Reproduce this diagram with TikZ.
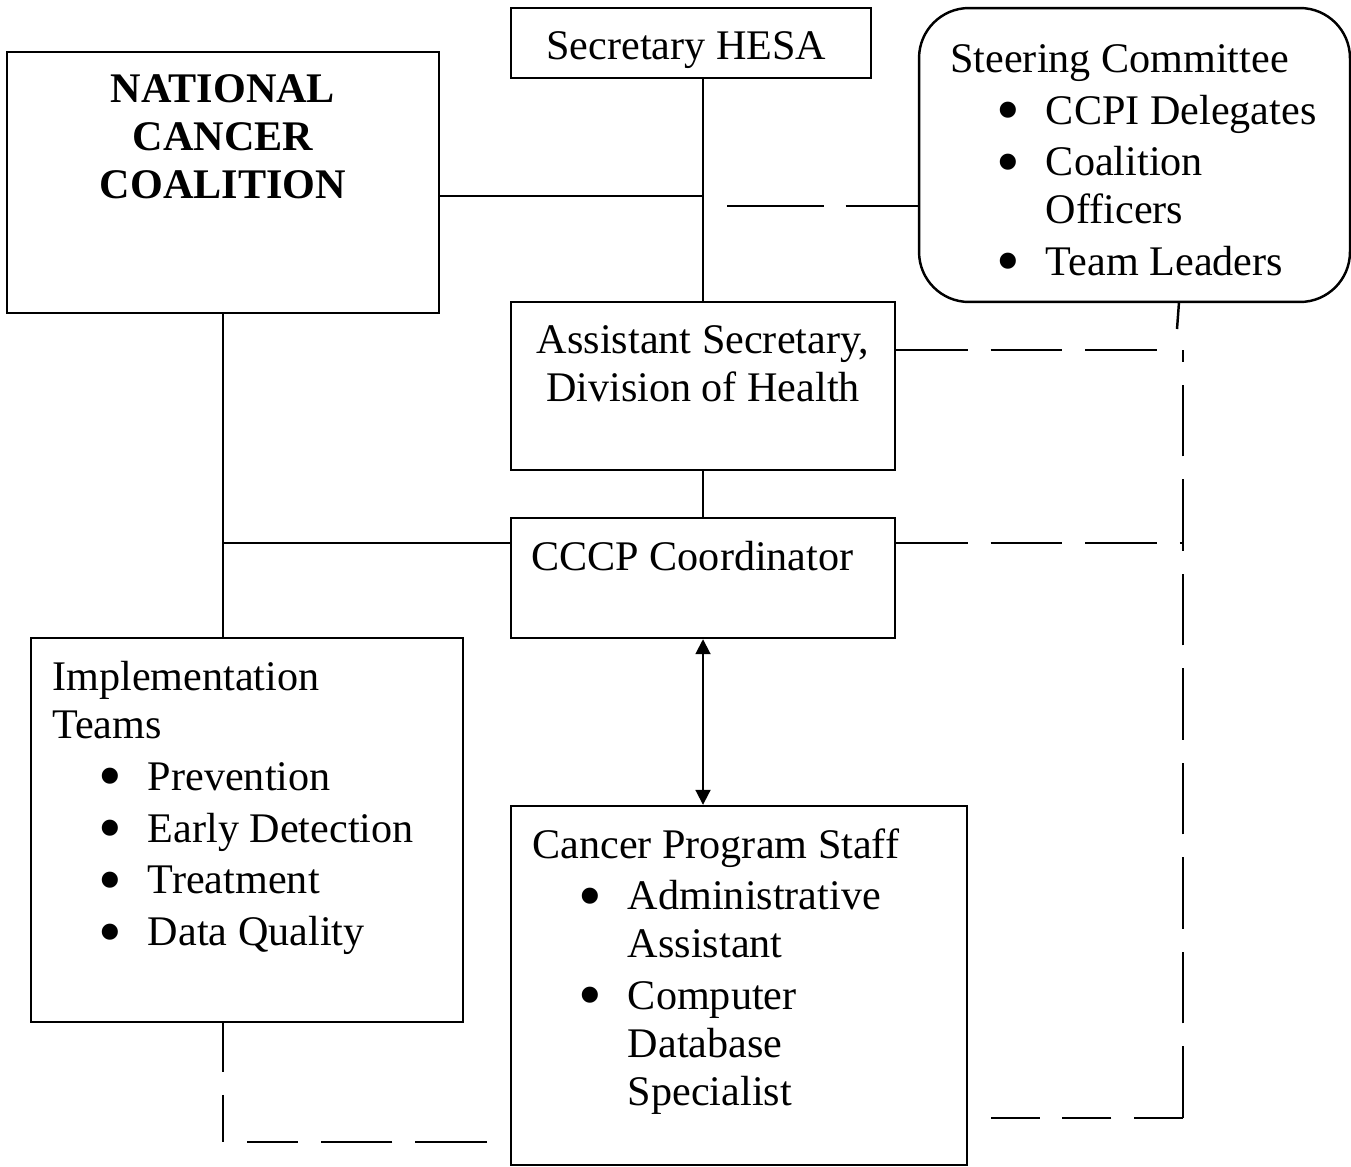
\documentclass[tikz,border=0pt]{standalone}
\usepackage{fontspec}
\setmainfont{Liberation Serif}
\usetikzlibrary{arrows.meta}
\newcommand{\bigbul}{\smash{\raisebox{-0.2em}{\scalebox{1.6}{\textbullet}}}}
\newcommand{\itm}[1]{\hspace*{26pt}\makebox[28.4pt][l]{\bigbul}#1}
\newcommand{\cnt}[1]{\hspace*{54.4pt}#1}
\tikzset{
  box/.style={draw, line width=1.4pt, inner sep=0pt},
  txt/.style={inner sep=0pt, align=left, font=\fontsize{24}{27.2}\selectfont},
  link/.style={line width=1.4pt},
  dashlink/.style={line width=1.4pt, dash pattern=on 40.8pt off 13pt},
  dashshort/.style={line width=1.4pt, dash pattern=on 27.8pt off 13pt},
}

\begin{document}
\begin{tikzpicture}[x=0.02cm, y=-0.02cm]
  \useasboundingbox (0,0) rectangle (1351,1166);

  % boxes
  \node[box, minimum width=8.64cm, minimum height=5.22cm] (ncc) at (223,182.5) {};
  \node[box, minimum width=7.2cm, minimum height=1.4cm] (hesa) at (691,43) {};
  \node[box, rounded corners=1cm, minimum width=8.62cm, minimum height=5.88cm] (steer) at (1134.5,155) {};
  \node[box, minimum width=7.68cm, minimum height=3.36cm] (asst) at (703,386) {};
  \node[box, minimum width=7.68cm, minimum height=2.4cm] (cccp) at (703,578) {};
  \node[box, minimum width=8.64cm, minimum height=7.68cm] (impl) at (247,830) {};
  \node[box, minimum width=9.12cm, minimum height=7.18cm] (staff) at (739,985.5) {};

  % add labels
  \node[txt, align=center, anchor=north, font=\fontsize{24}{27.5}\selectfont\bfseries] (ncc-t) at (223,74) {NATIONAL\\CANCER\\COALITION};
  \node[txt, anchor=base west] (hesa-t) at (546,60) {Secretary HESA};
  \node[txt, anchor=north west] (steer-t) at (950,44) {Steering Committee\\[2.3pt]\itm{CCPI Delegates}\\[2.3pt]\itm{Coalition}\\\cnt{Officers}\\[2.3pt]\itm{Team Leaders}};
  \node[txt, align=center, anchor=north] (asst-t) at (703,325) {Assistant Secretary,\\Division of Health};
  \node[txt, anchor=base west] (cccp-t) at (531,570) {CCCP Coordinator};
  \node[txt, anchor=north west] (impl-t) at (52,661) {Implementation\\Teams\\[2.3pt]\itm{Prevention}\\[2.3pt]\itm{Early Detection}\\[2.3pt]\itm{Treatment}\\[2.3pt]\itm{Data Quality}};
  \node[txt, anchor=north west] (staff-t) at (532,828) {Cancer Program Staff\\[2.3pt]\itm{Administrative}\\\cnt{Assistant}\\[2.3pt]\itm{Computer}\\\cnt{Database}\\\cnt{Specialist}};

  % coordinates to be reused
  \coordinate (j1) at (703,196);
  \coordinate (j2) at (223,543);
  \coordinate (c1) at (727,206);
  \coordinate (c2) at (1160,350);
  \coordinate (c3) at (1183,350);
  \coordinate (c4) at (1183,1118);
  \coordinate (c5) at (990,1118);
  \coordinate (c6) at (223,1142);
  \coordinate (c7) at (247,1142);
  \coordinate (c8) at (487,1142);
  \coordinate (c9) at (1183,543);
  \coordinate (s1) at (1179,302);
  \coordinate (s2) at (1177,329);

  % solid links
  \draw[link] (hesa.south -| asst.north) -- (asst.north);
  \draw[link] (ncc.east |- j1) -- (j1);
  \draw[link] (ncc.south) -- (ncc.south |- impl.north);
  \draw[link] (j2) -- (cccp.west |- j2);
  \draw[link] (asst.south) -- (cccp.north);
  \draw[line width=1.1pt, {Triangle[length=0.3cm,width=0.3cm]}-{Triangle[length=0.3cm,width=0.3cm]}] (cccp.south) -- (cccp.south |- staff.north);

  % dashed links
  \draw[link, dash pattern=on 55pt off 12.5pt] (c1) -- (steer.west |- c1);
  \draw[dashlink] (asst.east |- c2) -- (c2);
  \draw[dashlink] (cccp.east |- c9) -- (c9);
  \draw[link] (s1) -- (s2);
  \draw[dashlink] (c4) -- (c3);
  \draw[dashshort] (c4) -- (c5);
  \draw[dashshort] (impl.south -| c6) -- (c6);
  \draw[dashlink] (c8) -- (c7);
\end{tikzpicture}
\end{document}
